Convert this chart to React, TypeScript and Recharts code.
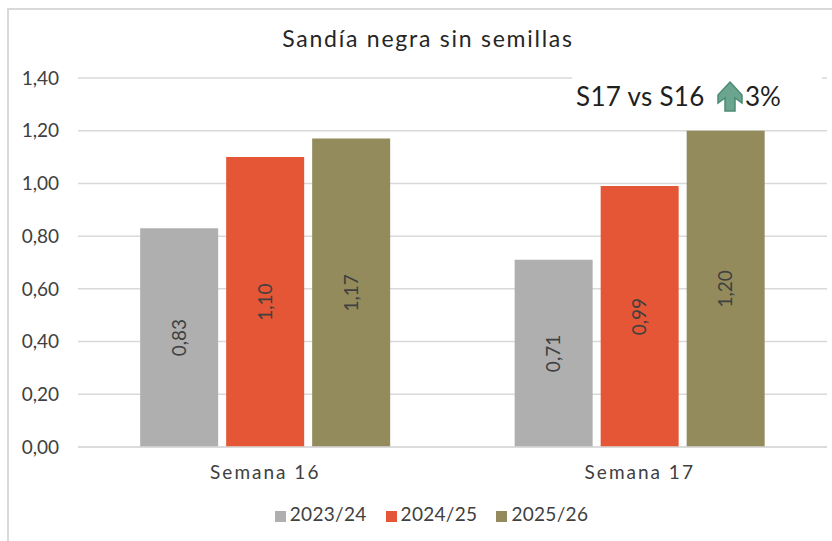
import { BarChart, Bar, XAxis, YAxis, CartesianGrid, Legend, LabelList } from 'recharts'

const weeks = ['Semana 16', 'Semana 17']
const season2324 = [0.83, 0.71]
const season2425 = [1.10, 0.99]
const season2526 = [1.17, 1.20]
const yTicks = [0, 0.2, 0.4, 0.6, 0.8, 1.0, 1.2, 1.4]

const data = weeks.map((week, i) => ({
  week,
  '2023/24': season2324[i],
  '2024/25': season2425[i],
  '2025/26': season2526[i],
}))

const FONT = 'Lato, "Open Sans", sans-serif'
const comma = (v: number) => v.toFixed(2).replace('.', ',')

function BarLabels() {
  return (
    <LabelList
      position="center"
      angle={-90}
      formatter={(v: any) => comma(Number(v))}
      style={{ fontSize: 19, fill: '#404040', fontFamily: FONT }}
    />
  )
}

export default function App() {
  return (
    <div style={{ position: 'absolute', left: 0, top: 0, width: 832, height: 541, background: '#fff', overflow: 'hidden', fontFamily: FONT }}>
      <div style={{ position: 'absolute', left: 7, top: 8, width: 840, height: 560, border: '2px solid #d9d9d9', boxSizing: 'border-box' }} />
      <div style={{ position: 'absolute', left: 0, top: 24, width: 856, textAlign: 'center', fontSize: 23, color: '#262626', letterSpacing: 1.75 }}>
        Sandía negra sin semillas
      </div>
      <div style={{ position: 'absolute', left: 0, top: 0 }}>
        <BarChart
          width={832}
          height={541}
          data={data}
          margin={{ top: 78, right: 5, bottom: 0, left: 0 }}
          barCategoryGap="16.6%"
          barGap={8}
        >
          <CartesianGrid vertical={false} stroke="#d9d9d9" strokeWidth={1.5} />
          <XAxis
            dataKey="week"
            height={71}
            axisLine={{ stroke: '#d9d9d9', strokeWidth: 1.5 }}
            tickLine={false}
            tickMargin={13}
            tick={{ fontSize: 19, fill: '#404040', fontFamily: FONT, letterSpacing: 2 }}
          />
          <YAxis
            domain={[0, 1.4]}
            ticks={yTicks}
            width={78}
            axisLine={false}
            tickLine={false}
            tickMargin={13}
            tickFormatter={comma}
            tick={{ fontSize: 19, fill: '#404040', fontFamily: FONT }}
          />
          <Legend
            iconType="square"
            iconSize={11}
            wrapperStyle={{ left: 0, width: 882, bottom: 16, fontSize: 19, fontFamily: FONT, letterSpacing: 0.3 }}
            formatter={(value: any) => <span style={{ color: '#404040', marginRight: 9 }}>{value}</span>}
          />
          <Bar dataKey="2023/24" fill="#afafaf" isAnimationActive={false}>{BarLabels()}</Bar>
          <Bar dataKey="2024/25" fill="#e45635" isAnimationActive={false}>{BarLabels()}</Bar>
          <Bar dataKey="2025/26" fill="#938b5c" isAnimationActive={false}>{BarLabels()}</Bar>
        </BarChart>
      </div>
      <div style={{ position: 'absolute', left: 572, top: 72, width: 250, height: 57, background: '#fff' }} />
      <div style={{ position: 'absolute', left: 576, top: 80, fontSize: 26, color: '#1f1f1f', whiteSpace: 'nowrap', letterSpacing: 0.3 }}>S17 vs S16</div>
      <svg style={{ position: 'absolute', left: 716, top: 80 }} width={28} height={34}>
        <path d="M14 2 L26 15 L26 23 L19 18 L19 31 L9 31 L9 18 L2 23 L2 15 Z" fill="#6ba58f" stroke="#4c8b75" strokeWidth={1.5} />
      </svg>
      <div style={{ position: 'absolute', left: 745, top: 80, fontSize: 26, color: '#1f1f1f', whiteSpace: 'nowrap' }}>3%</div>
    </div>
  )
}
